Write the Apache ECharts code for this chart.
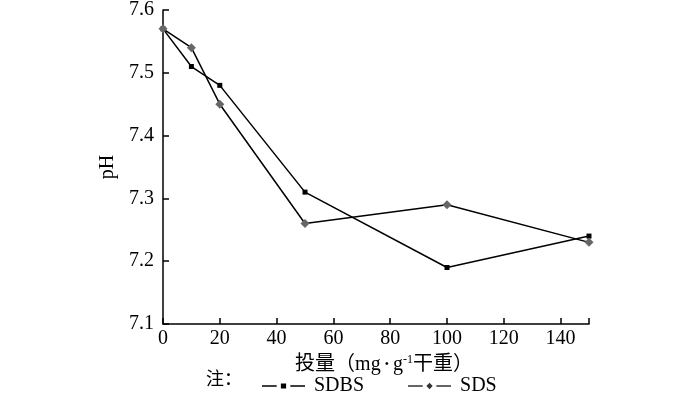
<!DOCTYPE html>
<html><head><meta charset="utf-8">
<script src="https://cdn.jsdelivr.net/npm/echarts@6/dist/echarts.min.js"></script>
<style>html,body{margin:0;padding:0;background:#fff}#c{width:700px;height:396px}</style>
</head><body><div id="c"></div>
<script>
const doses = [0, 10, 20, 50, 100, 150];
const sdbs = [7.57, 7.51, 7.48, 7.31, 7.19, 7.24];
const sds = [7.57, 7.54, 7.45, 7.26, 7.29, 7.23];
const yTicks = [7.1, 7.2, 7.3, 7.4, 7.5, 7.6];
const xTicks = [0, 20, 40, 60, 80, 100, 120, 140];
const xTickMarks = [0, 20, 40, 60, 80, 100, 120, 140, 150];

const FONT = 'Liberation Serif, Noto Sans CJK SC, serif';
const FS = 20;
const legendText = { color: '#000', fontSize: FS, fontFamily: 'Liberation Serif', padding: [0, 0, 0, 4] };
const chart = echarts.init(document.getElementById('c'));
chart.setOption({
  animation: false,
  backgroundColor: '#fff',
  textStyle: { fontFamily: FONT },
  grid: { left: 163, right: 111, top: 10, bottom: 72 },
  xAxis: {
    type: 'value', min: 0, max: 150,
    axisLine: { lineStyle: { color: '#000', width: 1.5 } },
    axisTick: { inside: true, length: 6, lineStyle: { color: '#000', width: 1.5 }, customValues: xTickMarks },
    axisLabel: { color: '#000', fontSize: FS, fontFamily: FONT, margin: 5, customValues: xTicks },
    splitLine: { show: false },
    name: '投量（mg{dot|•}g{sup|-1}干重）',
    nameLocation: 'middle', nameGap: 27,
    nameTextStyle: { color: '#000', fontSize: 20, fontFamily: FONT, padding: [0, 0, 0, 16],
      rich: {
        sup: { fontSize: 12, verticalAlign: 'top', padding: [0, 0, 10, 0], fontFamily: FONT, color: '#000' },
        dot: { fontSize: 12, fontFamily: FONT, color: '#000', padding: [0, 4, 0, 4] }
      } }
  },
  yAxis: {
    type: 'value', min: 7.1, max: 7.6, interval: 0.1,
    axisLine: { show: true, lineStyle: { color: '#000', width: 1.5 } },
    axisTick: { show: true, inside: true, length: 6, lineStyle: { color: '#000', width: 1.5 } },
    axisLabel: { color: '#000', fontSize: FS, fontFamily: FONT, margin: 9,
      formatter: v => v.toFixed(1) },
    splitLine: { show: false },
    name: 'pH', nameLocation: 'middle', nameGap: 43, nameRotate: 90,
    nameTextStyle: { color: '#000', fontSize: 20, fontFamily: FONT }
  },
  legend: {
    left: 257, top: 371, itemGap: 44, itemWidth: 43, itemHeight: 10,
    textStyle: legendText,
    data: [
      { name: 'SDBS', icon: 'path://M0,4.2H14V5.8H0Z M18,2.5H23V7.5H18Z M27,4.2H41V5.8H27Z', itemStyle: { color: '#000' }, textStyle: legendText },
      { name: 'SDS', icon: 'path://M0,4.2H14V5.8H0Z M20.5,2L23.5,5L20.5,8L17.5,5Z M27,4.2H41V5.8H27Z', itemStyle: { color: '#333' }, textStyle: legendText }
    ]
  },
  graphic: [{ type: 'text', left: 206, top: 371,
    style: { text: '注：', fontSize: 18, fontFamily: FONT, fill: '#000' } }],
  series: [
    { name: 'SDBS', type: 'line', data: doses.map((d, i) => [d, sdbs[i]]),
      symbol: 'rect', symbolSize: 5, color: '#000',
      lineStyle: { color: '#000', width: 1.5 }, itemStyle: { color: '#000' } },
    { name: 'SDS', type: 'line', data: doses.map((d, i) => [d, sds[i]]),
      symbol: 'diamond', symbolSize: 9, color: '#666',
      lineStyle: { color: '#000', width: 1.5 }, itemStyle: { color: '#666' } }
  ]
});
</script></body></html>
